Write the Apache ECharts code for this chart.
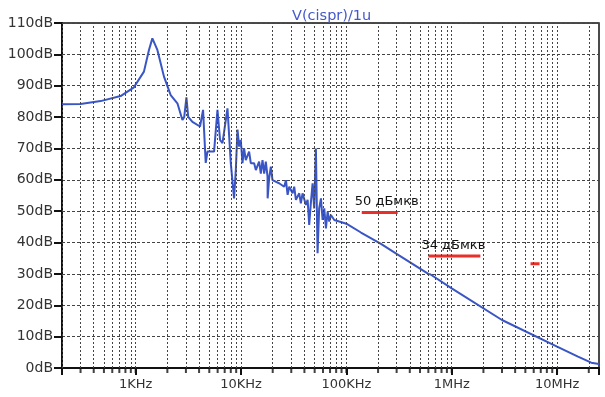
<!DOCTYPE html>
<html>
<head>
<meta charset="utf-8">
<script src="https://cdn.jsdelivr.net/npm/echarts@6/dist/echarts.min.js"></script>
<style>
  html, body { margin: 0; padding: 0; background: #fff; }
  #chart { width: 605px; height: 397px; }
</style>
</head>
<body>
<div id="chart"></div>
<script>
// frequency (Hz) and level (dB)
const freq = [
  200, 300, 465, 720, 963, 1199, 1338, 1441, 1608, 1858, 2151, 2491, 2779, 2891,
  3033, 3155, 3459, 4084, 4365, 4625, 4805, 5550, 5979, 6328, 6670, 7441,
  8000, 8592, 8926, 9265, 9600, 9956, 10330, 10700, 11100, 11940, 12390, 13330,
  13830, 14860, 15420, 16000, 16600, 17200, 17860, 17900, 18500, 19200, 19900,
  23000, 23900, 25700, 26700, 27700, 28700, 30900, 32000, 33200, 35700, 37000,
  38400, 41300, 42900, 44400, 46000, 47800, 49500, 51400, 53300, 55200, 57400,
  59500, 61700, 64000, 66400, 68800, 71400, 76800, 85600, 100000, 137600,
  213000, 300000, 600000, 615000, 630000, 1000000, 3000000, 10000000,
  15800000, 21100000, 25000000
];
const level = [
  84.1, 84.2, 85.1, 86.7, 89.5, 94.5, 101.4, 105.1, 101.4, 92.9, 87.0, 84.4, 79.1, 80.0,
  86.3, 80.1, 78.5, 77.0, 82.3, 65.4, 69.0, 69.0, 82.3, 72.7, 71.7, 82.8,
  65.3, 54.1, 63.1, 76.0, 70.6, 72.7, 65.3, 70.0, 66.3, 69.0, 65.3, 65.3,
  63.1, 65.8, 62.0, 66.3, 62.0, 65.8, 61.0, 54.1, 60.5, 64.2, 59.9,
  58.9, 59.4, 57.8, 59.9, 55.2, 57.8, 55.7, 57.8, 53.6, 55.7, 52.5,
  55.7, 52.0, 53.6, 45.6, 52.5, 58.9, 50.9, 70.0, 36.6, 50.9, 54.1,
  47.2, 50.9, 44.5, 49.9, 46.7, 48.8, 47.2, 46.7, 46.0, 43.2,
  39.6, 36.4, 30.0, 29.4, 29.8, 25.4, 15.3, 6.8,
  3.6, 1.7, 1.3
];

// red limit marks
const limit50 = [[140000, 49.6], [307000, 49.6]];
const limit34 = [[601000, 35.7], [1870000, 35.7]];
const limitDash = [[5600000, 33.2], [6820000, 33.2]];
const limitLabels = ['50 дБмкв', '34 дБмкв'];

const xMin = 200, xMax = 25000000;
const yTicks = [0, 10, 20, 30, 40, 50, 60, 70, 80, 90, 100, 110];

const xLabelText = { 1000: '1KHz', 10000: '10KHz', 100000: '100KHz', 1000000: '1MHz', 10000000: '10MHz' };

// vertical grid / minor tick positions: 2..9 per decade
const gridFreqs = [];
for (let d = 100; d <= 10000000; d *= 10) {
  for (let m = 1; m <= 9; m++) {
    const f = d * m;
    if (f >= xMin && f <= xMax) gridFreqs.push(f);
  }
}

const font = 'DejaVu Sans';
const chart = echarts.init(document.getElementById('chart'));

const redLine = (data, label) => ({
  type: 'line',
  data: data,
  symbol: 'none',
  silent: true,
  z: 4,
  lineStyle: { color: '#e8302a', width: 3 },
  markPoint: label ? {
    symbol: 'circle', symbolSize: 0, silent: true,
    data: [{ coord: data[0], value: label }],
    label: {
      show: true, formatter: label, position: 'top', align: 'left',
      offset: [-7, 1], color: '#111', fontFamily: font, fontSize: 13
    }
  } : undefined
});

chart.setOption({
  animation: false,
  backgroundColor: '#fff',
  title: {
    text: 'V(cispr)/1u',
    left: 287, top: 4,
    textStyle: { color: '#4458cc', fontFamily: font, fontSize: 14.5, fontWeight: 'normal' }
  },
  grid: {
    left: 62, right: 6, top: 23, bottom: 29,
    show: true, borderColor: '#111', borderWidth: 1.5
  },
  xAxis: {
    type: 'log', logBase: 10, min: xMin, max: xMax,
    axisLine: { show: true, lineStyle: { color: '#111', width: 2 } },
    axisTick: { show: true, length: 7, lineStyle: { color: '#111', width: 2 } },
    axisLabel: {
      color: '#333', fontFamily: font, fontSize: 13, margin: 10,
      formatter: v => xLabelText[Math.round(v)] || ''
    },
    splitLine: { show: false }
  },
  yAxis: {
    type: 'value', min: yTicks[0], max: yTicks[yTicks.length - 1], interval: 10,
    axisLine: { show: true, lineStyle: { color: '#111', width: 2 } },
    axisTick: { show: true, length: 8, lineStyle: { color: '#111', width: 2 } },
    axisLabel: { color: '#333', fontFamily: font, fontSize: 14, margin: 9, formatter: '{value}dB' },
    splitLine: { show: true, lineStyle: { color: '#444', type: [3, 2], width: 1 } }
  },
  series: [
    {
      // vertical dotted grid lines
      type: 'line', data: [], silent: true, z: 1,
      markLine: {
        silent: true, symbol: 'none', label: { show: false },
        lineStyle: { color: '#444', type: [2, 2], width: 1 },
        data: gridFreqs.map(f => ({ xAxis: f }))
      }
    },
    {
      // minor ticks under the x axis
      type: 'scatter', silent: true, clip: false, z: 5,
      symbol: 'rect', symbolSize: [2, 4], symbolOffset: [0, 3],
      itemStyle: { color: '#111' },
      data: gridFreqs.map(f => [f, 0])
    },
    {
      type: 'line',
      data: freq.map((f, i) => [f, level[i]]),
      symbol: 'none', z: 3, silent: true,
      lineStyle: { color: '#3a55c4', width: 2 }
    },
    redLine(limit50, limitLabels[0]),
    redLine(limit34, limitLabels[1]),
    redLine(limitDash, null)
  ]
});
</script>
</body>
</html>
